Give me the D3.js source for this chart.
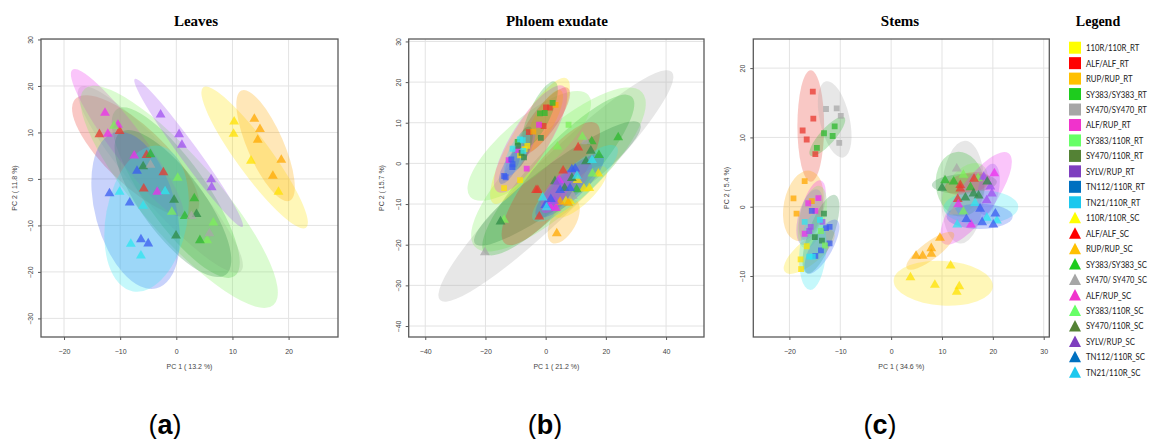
<!DOCTYPE html>
<html>
<head>
<meta charset="utf-8">
<script src="https://cdn.jsdelivr.net/npm/d3@7"></script>
<style>
  body { margin: 0; background: #fff; }
  svg { display: block; }
</style>
</head>
<body>
<svg id="fig" width="1149" height="439"></svg>
<script>
// group order used by every data array below
const groupNames = ['110R/110R', 'ALF/ALF', 'RUP/RUP', 'SY383/SY383', 'SY470/SY470', 'ALF/RUP',
    'SY383/110R', 'SY470/110R', 'SYLV/RUP', 'TN112/110R', 'TN21/110R'];
const plotColors = ['#FFE100', '#E8382E', '#FFA800', '#2DB82D', '#A8A8A8', '#EE2EEE',
    '#7CF05A', '#2E8B45', '#A050F0', '#3A5CF0', '#2EE6F0'];
const legendColors = ['#FFFF00', '#FF0000', '#FFC000', '#1ECC1E', '#A6A6A6', '#F033CC',
    '#66FF66', '#548235', '#7E3FBF', '#0070C0', '#1CC8EE'];
const legendRT = ['110R/110R_RT', 'ALF/ALF_RT', 'RUP/RUP_RT', 'SY383/SY383_RT', 'SY470/SY470_RT', 'ALF/RUP_RT',
    'SY383/110R_RT', 'SY470/110R_RT', 'SYLV/RUP_RT', 'TN112/110R_RT', 'TN21/110R_RT'];
const legendSC = ['110R/110R_SC', 'ALF/ALF_SC', 'RUP/RUP_SC', 'SY383/SY383_SC', 'SY470/ SY470_SC', 'ALF/RUP_SC',
    'SY383/110R_SC', 'SY470/110R_SC', 'SYLV/RUP_SC', 'TN112/110R_SC', 'TN21/110R_SC'];

// points: [group, PC1, PC2]
const leavesSC = [
    [0, 10.3, 12.3], [0, 10.2, 9.7], [0, 13.3, 3.9], [0, 18.2, -2.8],
    [2, 13.9, 12.9], [2, 14.9, 10.7], [2, 14.5, 8.4], [2, 18.7, 4.1], [2, 17.2, 0.65],
    [1, -13.7, 9.6], [1, -10.1, 10.3], [1, -5.3, 5.1], [1, -2.3, 1.4], [1, -5.8, -2.1],
    [5, -12.7, 14.2], [5, -10.4, 11.6], [5, -12.2, 9.7], [5, -7.5, 5.0], [5, -3.4, -2.8],
    [6, -11.1, 11.4], [6, 0.25, 0.2], [6, -0.8, -7.1], [6, 5.5, -13.2], [6, 6.6, -9.4],
    [8, -2.8, 13.8], [8, 0.5, 9.6], [8, 1.0, 7.3], [8, 6.2, -0.1], [8, 6.3, -1.8],
    [3, -4.6, 5.3], [3, 1.5, -8.0], [3, 3.2, -4.2], [3, 4.2, -13.2],
    [7, -5.9, 2.7], [7, -0.4, -4.5], [7, 3.6, -7.6], [7, -0.05, -12.2],
    [4, -4.6, 3.0], [4, 2.7, -8.0], [4, 5.9, -11.7],
    [9, -11.9, -3.1], [9, -8.3, -5.1], [9, -6.3, -13.0], [9, -5.0, -13.9], [9, -7.0, 1.7],
    [10, -10.1, -2.8], [10, -5.9, -5.8], [10, -2.0, -2.7], [10, -8.1, -14.0], [10, -6.3, -16.5]
];
const phloemRT = [
    [0, -6.1, 4.3], [0, -8.5, 2.0], [0, -8.5, -4.1], [0, -13.8, -6.1], [0, -7.0, 3.5],
    [1, 1.4, 13.7], [1, 0.1, 13.8], [1, -0.7, 9.2], [1, -5.6, 7.7],
    [2, 3.3, 14.4], [2, -4.1, 7.8],
    [3, 2.3, 14.9], [3, -1.9, 12.3], [3, -0.3, 12.4], [3, -9.3, 5.3],
    [5, -2.2, 9.5], [5, -9.3, 3.3], [5, -12.3, 0.8], [5, -6.3, -1.3],
    [6, 7.6, 9.5],
    [7, -1.6, 6.3], [7, -9.2, 4.3], [7, -8.0, 2.6], [7, -7.2, 1.5],
    [9, -11.4, 1.0], [9, -11.0, -0.2], [9, -11.1, -0.9], [9, -13.8, -3.1], [9, -13.3, -3.4],
    [10, -8.5, 5.9], [10, -7.6, 5.7], [10, -11.0, 3.6], [10, -7.4, 3.1]
];
const phloemSC = [
    [0, 10.6, -4.1], [0, 17.5, -2.5], [0, 12.7, -6.2], [0, 14.5, -6.1], [0, 6.7, -9.3], [0, 8.1, -9.3],
    [1, 10.8, 3.9], [1, 5.8, -1.8], [1, -3.2, -6.6], [1, -2.6, -6.6], [1, -2.1, -13.1],
    [2, 3.7, -17.2], [2, 4.8, -9.5], [2, 7.5, -9.7],
    [3, 24.1, 6.4], [3, 17.7, 2.0], [3, 10.3, -6.4], [3, 15.3, 5.4],
    [4, -20.2, -21.9], [4, 13.3, 5.4], [4, 9.0, -8.0],
    [5, 4.5, -4.1], [5, 3.4, -11.0], [5, 1.4, -10.5],
    [6, 12.2, 6.5], [6, 3.9, 4.1], [6, 15.5, -2.5], [6, -13.8, -13.9],
    [7, 15.0, 3.1], [7, 13.4, 0.5], [7, 8.7, -3.6], [7, 3.1, -4.4], [7, 6.3, -6.1], [7, -15.0, -14.3],
    [8, 2.8, -9.3], [8, 4.0, -4.5],
    [9, 8.7, -1.5], [9, 9.8, -1.3], [9, 8.1, -6.1], [9, 4.8, -6.6], [9, 1.7, -8.8], [9, -0.1, -10.3],
    [10, 15.4, 0.8], [10, 10.4, -3.1], [10, -1.0, -8.4], [10, 0.3, -10.8]
];
const stemsRT = [
    [1, -15.4, 16.6], [1, -15.3, 12.7], [1, -17.4, 11.0], [1, -16.6, 9.7], [1, -14.9, 7.6],
    [4, -12.8, 14.1], [4, -10.7, 14.2], [4, -9.9, 13.1], [4, -10.2, 9.2],
    [3, -13.2, 10.6], [3, -11.5, 10.2], [3, -11.1, 11.6], [3, -14.6, 8.5],
    [2, -17.0, 3.7], [2, -19.2, 1.2], [2, -18.6, -1.0], [2, -15.6, 0.8],
    [0, -17.8, -7.6], [0, -17.7, -9.0], [0, -16.6, -5.7],
    [5, -16.3, 0.5], [5, -14.3, 1.25], [5, -17.0, -3.9], [5, -14.9, -0.6],
    [8, -15.8, -2.9], [8, -16.1, -3.5], [8, -13.5, -2.2],
    [9, -15.6, -0.6], [9, -12.8, -3.1], [9, -12.1, -2.9], [9, -12.1, -5.3], [9, -13.8, -6.3], [9, -14.9, -7.1],
    [10, -17.0, -2.2], [10, -14.0, -1.9], [10, -15.4, -7.2], [10, -16.1, -7.2],
    [7, -13.2, -1.0], [7, -15.0, -4.4], [7, -13.6, -4.9],
    [6, -13.8, -3.5], [6, -13.0, -5.6]
];
const stemsSC = [
    [4, 12.9, 5.5], [4, 12.3, -0.7],
    [6, 14.2, 4.6], [6, 17.1, 4.1], [6, 14.2, -0.7],
    [3, 10.6, 3.8], [3, 12.3, 3.6], [3, 15.6, 2.8],
    [1, 16.3, 4.0], [1, 13.6, 3.1], [1, 13.6, 2.6], [1, 13.1, 1.1],
    [8, 18.2, 4.3], [8, 19.5, 2.9], [8, 19.8, 1.9], [8, 18.8, 0.9],
    [5, 20.3, 4.8], [5, 13.2, 0.35], [5, 15.7, -2.6],
    [7, 10.0, 2.7], [7, 18.9, 3.6], [7, 16.2, 1.9], [7, 17.2, 1.6], [7, 14.6, 1.3],
    [10, 16.5, 0.5], [10, 18.8, -1.6], [10, 20.8, -2.0], [10, 13.0, -2.6],
    [9, 17.5, -0.3], [9, 20.5, -1.0], [9, 14.8, -1.8], [9, 17.9, -2.25], [9, 20.1, -2.6],
    [2, 9.6, -4.5], [2, 7.9, -6.0], [2, 7.9, -6.8], [2, 6.2, -7.1], [2, 4.9, -7.1],
    [0, 3.8, -10.2], [0, 11.7, -8.5], [0, 8.6, -11.3], [0, 13.4, -11.5], [0, 12.9, -12.3]
];

// confidence ellipses: [group, tip1 PC1, tip1 PC2, tip2 PC1, tip2 PC2, minor/major ratio]
const leavesEll = [
    [0, 4.8, 19.7, 23.1, -10.5, 0.2],
    [1, -18.0, 17.2, 3.5, -7.3, 0.35],
    [2, 11.6, 19.0, 20.2, -4.7, 0.3],
    [3, -10.6, 15.0, 10.4, -20.9, 0.3],
    [4, -17.2, 19.7, 11.5, -19.9, 0.2],
    [5, -18.5, 23.5, 1.0, -8.0, 0.18],
    [6, -16.3, 19.4, 17.3, -27.1, 0.27],
    [7, -10.0, 10.0, 8.8, -20.6, 0.35],
    [8, -7.4, 21.5, 11.8, -10.3, 0.1],
    [9, -11.0, 10.0, -3.5, -23.5, 0.5],
    [10, -2.9, 7.1, -7.7, -24.2, 0.55]
];
const phloemEllRT = [
    [6, -25.1, -8.2, 14.2, 16.8, 0.35],
    [0, -17.4, -9.8, 7.0, 20.9, 0.25],
    [5, -16.0, -7.0, 6.0, 19.0, 0.3],
    [1, -9.0, 2.0, 7.5, 18.5, 0.3],
    [2, -6.0, 3.0, 5.0, 18.0, 0.3],
    [3, -6.9, 4.1, 3.1, 20.1, 0.3],
    [8, -13.0, -3.0, -4.0, 8.0, 0.3],
    [7, -10.7, -1.6, -5.2, 9.0, 0.35],
    [10, -13.0, -3.0, -6.0, 8.0, 0.35],
    [9, -15.0, -5.0, -9.0, 3.0, 0.35]
];
const phloemEllSC = [
    [4, -35.1, -33.6, 41.9, 22.5, 0.17],
    [6, -23.5, -20.5, 32.0, 17.5, 0.33],
    [3, -20.2, -22.1, 28.6, 16.4, 0.25],
    [7, -23.5, -19.7, 31.3, 9.8, 0.2],
    [1, -13.5, -19.7, 16.9, 9.8, 0.3],
    [2, 2.0, -19.5, 10.0, -9.0, 0.5],
    [0, 3.0, -13.0, 20.0, -1.0, 0.35],
    [10, -4.1, -13.9, 23.6, 4.1, 0.28],
    [9, -3.0, -13.0, 19.0, 2.0, 0.3],
    [8, -1.0, -12.0, 15.0, 0.0, 0.3],
    [5, -1.0, -12.0, 8.0, -2.0, 0.4]
];
const stemsEllRT = [
    [1, -15.8, 19.7, -15.8, 3.6, 0.24],
    [4, -12.8, 18.1, -9.4, 7.1, 0.38],
    [3, -15.9, 7.4, -9.2, 12.9, 0.3],
    [2, -15.9, 5.2, -18.6, -4.9, 0.55],
    [0, -20.9, -9.4, -11.3, -3.6, 0.38],
    [5, -13.8, 3.8, -17.2, -4.8, 0.35],
    [8, -14.5, 2.5, -17.5, -5.5, 0.4],
    [7, -11.0, 1.7, -16.6, -9.6, 0.3],
    [6, -14.0, 3.0, -17.0, -6.0, 0.4],
    [9, -10.7, -1.9, -16.5, -9.6, 0.35],
    [10, -14.8, -1.0, -16.0, -12.0, 0.35]
];
const stemsEllSC = [
    [4, 14.6, 9.5, 13.6, -5.3, 0.42],
    [3, 12.9, 7.9, 14.2, -1.4, 0.75],
    [7, 8.0, 3.1, 20.8, 3.6, 0.3],
    [1, 10.6, 2.6, 19.5, 4.1, 0.45],
    [6, 11.0, -1.0, 18.0, 6.0, 0.6],
    [5, 23.1, 7.7, 10.3, -5.3, 0.33],
    [8, 20.1, 6.2, 18.2, -1.2, 0.4],
    [10, 10.3, -0.2, 25.0, 0.0, 0.45],
    [9, 10.9, -1.4, 23.9, -1.4, 0.38],
    [2, 3.1, -8.9, 12.3, -3.8, 0.3],
    [0, 0.5, -10.6, 20.0, -11.5, 0.45]
];

const svg = d3.select('#fig');
const axisFont = 'Liberation Sans, Arial, sans-serif';

const panels = [
    {id: 'a', title: 'Leaves', titleX: 196, xLab: 'PC 1 ( 13.2 %)', yLab: 'PC 2 ( 11.8 %)',
        left: 41, right: 338, xDom: [-24.1, 28.8], yDom: [-34.0, 30.1],
        xTicks: [-20, -10, 0, 10, 20], yTicks: [-30, -20, -10, 0, 10, 20, 30],
        ells: [leavesEll], rt: [], sc: leavesSC, tag: 'a', tagX: 165},
    {id: 'b', title: 'Phloem exudate', titleX: 557, xLab: 'PC 1 ( 21.2 %)', yLab: 'PC 2 ( 15.7 %)',
        left: 408.7, right: 704, xDom: [-45.5, 52.6], yDom: [-42.7, 30.6],
        xTicks: [-40, -20, 0, 20, 40], yTicks: [-40, -30, -20, -10, 0, 10, 20, 30],
        ells: [phloemEllSC, phloemEllRT], rt: phloemRT, sc: phloemSC, tag: 'b', tagX: 545},
    {id: 'c', title: 'Stems', titleX: 900, xLab: 'PC 1 ( 34.6 %)', yLab: 'PC 2 ( 5.4 %)',
        left: 753.3, right: 1049.3, xDom: [-27.1, 31.1], yDom: [-18.8, 24.2],
        xTicks: [-20, -10, 0, 10, 20, 30], yTicks: [-10, 0, 10, 20],
        ells: [stemsEllRT, stemsEllSC], rt: stemsRT, sc: stemsSC, tag: 'c', tagX: 880}
];
const plotTop = 39, plotBottom = 337;

const triangle = d3.symbol(d3.symbolTriangle, 42);
const square = d3.symbol(d3.symbolSquare, 34);

function drawEllipses(g, list, x, y) {
    g.selectAll(null).data(list).join('ellipse')
        .each(function (d) {
            let [gi, x1, y1, x2, y2, r] = d;
            let px1 = x(x1), py1 = y(y1), px2 = x(x2), py2 = y(y2);
            let cx = (px1 + px2) / 2, cy = (py1 + py2) / 2;
            let a = Math.hypot(px2 - px1, py2 - py1) / 2;
            let ang = Math.atan2(py2 - py1, px2 - px1) * 180 / Math.PI;
            d3.select(this)
                .attr('cx', cx).attr('cy', cy)
                .attr('rx', a).attr('ry', a * r)
                .attr('transform', `rotate(${ang}, ${cx}, ${cy})`)
                .attr('fill', plotColors[gi])
                .attr('fill-opacity', 0.28);
        });
}

function drawPoints(g, list, sym, x, y) {
    g.selectAll(null).data(list).join('path')
        .attr('d', sym)
        .attr('transform', d => `translate(${x(d[1])}, ${y(d[2])})`)
        .attr('fill', d => plotColors[d[0]])
        .attr('fill-opacity', 0.75);
}

panels.forEach(p => {
    let x = d3.scaleLinear().domain(p.xDom).range([p.left, p.right]);
    let y = d3.scaleLinear().domain(p.yDom).range([plotBottom, plotTop]);
    let g = svg.append('g').attr('class', 'panel-' + p.id);

    svg.append('clipPath').attr('id', 'clip-' + p.id)
        .append('rect')
        .attr('x', p.left).attr('y', plotTop)
        .attr('width', p.right - p.left).attr('height', plotBottom - plotTop);

    // grid
    g.append('g').selectAll('line').data(p.xTicks).join('line')
        .attr('x1', d => x(d)).attr('x2', d => x(d))
        .attr('y1', plotTop).attr('y2', plotBottom)
        .attr('stroke', '#e3e3e3').attr('stroke-width', 1);
    g.append('g').selectAll('line').data(p.yTicks).join('line')
        .attr('y1', d => y(d)).attr('y2', d => y(d))
        .attr('x1', p.left).attr('x2', p.right)
        .attr('stroke', '#e3e3e3').attr('stroke-width', 1);

    let plot = g.append('g').attr('clip-path', `url(#clip-${p.id})`);
    p.ells.forEach(list => drawEllipses(plot.append('g'), list, x, y));
    drawPoints(plot.append('g'), p.rt, square, x, y);
    drawPoints(plot.append('g'), p.sc, triangle, x, y);

    // frame
    g.append('rect')
        .attr('x', p.left).attr('y', plotTop)
        .attr('width', p.right - p.left).attr('height', plotBottom - plotTop)
        .attr('fill', 'none').attr('stroke', '#5a5a5a').attr('stroke-width', 1.3);

    // axes
    let xAxis = g.append('g')
        .attr('transform', `translate(0, ${plotBottom})`)
        .call(d3.axisBottom(x).tickValues(p.xTicks).tickSize(3).tickSizeOuter(0));
    xAxis.select('.domain').remove();
    xAxis.selectAll('line').attr('stroke', '#5a5a5a');
    xAxis.selectAll('text')
        .attr('y', 12).attr('dy', '0.71em')
        .attr('font-family', axisFont).attr('font-size', 7).attr('fill', '#444');

    let yAxis = g.append('g')
        .attr('transform', `translate(${p.left}, 0)`)
        .call(d3.axisLeft(y).tickValues(p.yTicks).tickSize(3).tickSizeOuter(0));
    yAxis.select('.domain').remove();
    yAxis.selectAll('line').attr('stroke', '#5a5a5a');
    yAxis.selectAll('text')
        .attr('x', 0).attr('y', -8).attr('dy', 0)
        .attr('text-anchor', 'middle')
        .attr('transform', 'rotate(-90)')
        .attr('font-family', axisFont).attr('font-size', 7).attr('fill', '#444');

    g.append('text')
        .attr('x', (p.left + p.right) / 2).attr('y', 369)
        .attr('text-anchor', 'middle')
        .attr('font-family', axisFont).attr('font-size', 7).attr('fill', '#444')
        .text(p.xLab);
    g.append('text')
        .attr('transform', `translate(${p.left - 24.5}, ${(plotTop + plotBottom) / 2}) rotate(-90)`)
        .attr('text-anchor', 'middle')
        .attr('font-family', axisFont).attr('font-size', 7).attr('fill', '#444')
        .text(p.yLab);

    g.append('text')
        .attr('x', p.titleX).attr('y', 26)
        .attr('text-anchor', 'middle')
        .attr('font-family', 'Liberation Serif, Times New Roman, serif')
        .attr('font-weight', 'bold').attr('font-size', 15)
        .text(p.title);

    let tag = g.append('text')
        .attr('x', p.tagX).attr('y', 434)
        .attr('text-anchor', 'middle')
        .attr('font-family', axisFont).attr('font-size', 27).attr('fill', '#000');
    tag.append('tspan').text('(');
    tag.append('tspan').attr('font-weight', 'bold').text(p.tag);
    tag.append('tspan').text(')');
});

// legend
let legend = svg.append('g').attr('class', 'legend');
legend.append('text')
    .attr('x', 1098).attr('y', 26)
    .attr('text-anchor', 'middle')
    .attr('font-family', 'Liberation Serif, Times New Roman, serif')
    .attr('font-weight', 'bold').attr('font-size', 14)
    .text('Legend');

let legendItems = legendRT.map((t, i) => ({label: t, g: i, shape: 'sq'}))
    .concat(legendSC.map((t, i) => ({label: t, g: i, shape: 'tri'})));
let rowY = d3.scaleLinear().domain([0, legendItems.length - 1]).range([47.7, 372.3]);

let rows = legend.selectAll('g.row').data(legendItems).join('g')
    .attr('class', 'row')
    .attr('transform', (d, i) => `translate(0, ${rowY(i)})`);
rows.filter(d => d.shape === 'sq').append('rect')
    .attr('x', 1069).attr('y', -6).attr('width', 12).attr('height', 12)
    .attr('fill', d => legendColors[d.g]);
rows.filter(d => d.shape === 'tri').append('path')
    .attr('d', 'M1075,-6 L1081,5.5 L1069,5.5 Z')
    .attr('fill', d => legendColors[d.g]);
rows.append('text')
    .attr('font-family', 'Lato, Liberation Sans, sans-serif')
    .attr('font-size', 10).attr('fill', '#222')
    .text(d => d.label)
    .attr('transform', function () {
        // squeeze the labels horizontally so the longest still fits the page
        let w = this.getComputedTextLength();
        let s = Math.min(0.78, 61 / w);
        return `translate(1086, 3.5) scale(${s}, 1)`;
    });
</script>
</body>
</html>
